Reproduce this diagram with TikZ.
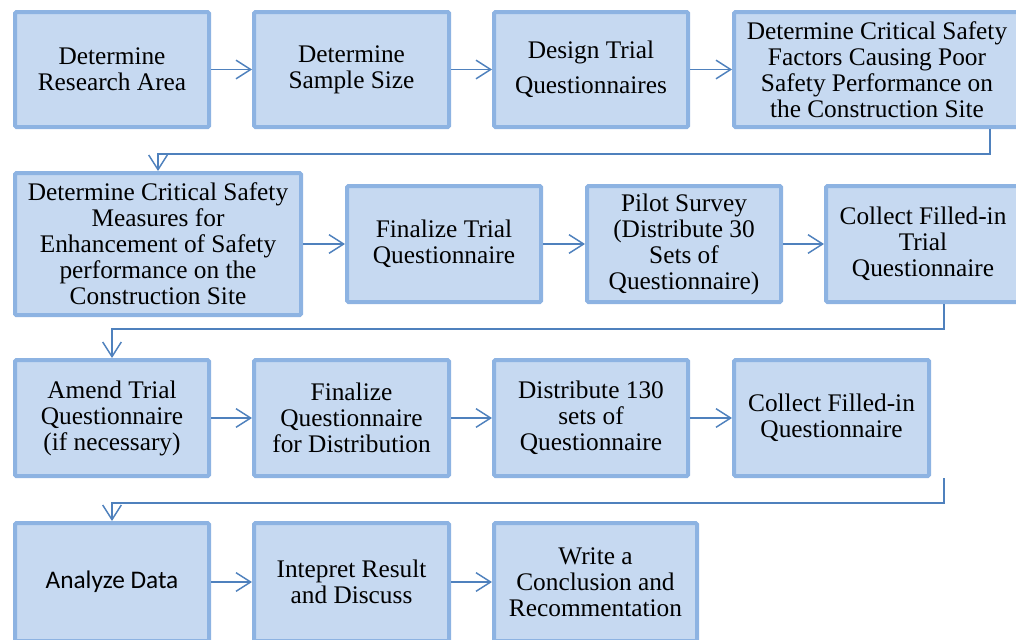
\documentclass[tikz,border=0pt]{standalone}
\usepackage{fontspec}
\setmainfont{Liberation Serif}
\newfontfamily\calfont{Carlito}
\usetikzlibrary{arrows.meta}
\definecolor{boxfill}{HTML}{C6D9F1}
\definecolor{boxborder}{HTML}{8DB3E2}
\definecolor{arrcol}{HTML}{4F81BD}
\tikzset{
  box/.style={draw=boxborder, fill=boxfill, line width=3pt, rounded corners=1pt,
    align=center, inner sep=0pt, font=\fontsize{19}{19.5}\selectfont, text=black},
  arr/.style={draw=arrcol, line width=1.1pt,
    -{Straight Barb[length=11pt,width=14pt,line width=1.1pt]}},
}
\newcommand{\bx}[6]{%
  \node[box, minimum width={(#4-#2)*0.75pt-3pt}, minimum height={(#5-#3)*0.75pt-3pt}]
    (#1) at ({(#2+#4)/2},{(#3+#5)/2}) {#6};}
\begin{document}
\begin{tikzpicture}[x=0.75pt,y=-0.75pt]
\useasboundingbox (0,0) rectangle (1016,639);
% row 1
\bx{b1}{13}{10}{211}{129}{Determine\\Research Area}
\bx{b2}{252}{10}{451}{129}{Determine\\Sample Size}
\bx{b3}{492}{10}{690}{129}{Design Trial\\[6.75pt]Questionnaires}
\bx{b4}{732}{10}{1022}{129}{Determine Critical Safety\\Factors Causing Poor\\Safety Performance on\\the Construction Site}
% row 2
\bx{b5}{13}{171}{303}{317}{Determine Critical Safety\\Measures for\\Enhancement of Safety\\performance on the\\Construction Site}
\bx{b6}{345}{184}{543}{304}{Finalize Trial\\Questionnaire}
\bx{b7}{585}{184}{783}{304}{Pilot Survey\\(Distribute 30\\Sets of\\Questionnaire)}
\bx{b8}{824}{184}{1022}{304}{Collect Filled-in\\Trial\\Questionnaire}
% row 3
\bx{b9}{13}{358}{211}{478}{Amend Trial\\Questionnaire\\(if necessary)}
\bx{b10}{252}{358}{451}{478}{Finalize\\Questionnaire\\for Distribution}
\bx{b11}{492}{358}{690}{478}{Distribute 130\\sets of\\Questionnaire}
\bx{b12}{732}{358}{931}{478}{Collect Filled-in\\Questionnaire}
% row 4
\bx{b13}{13}{521}{211}{643}{{\calfont Analyze Data}}
\bx{b14}{252}{521}{451}{643}{Intepret Result\\and Discuss}
\bx{b15}{492}{521}{699}{643}{Write a\\Conclusion and\\Recommentation}
% horizontal connectors
\draw[arr] (b1.east) -- (b2.west);
\draw[arr] (b2.east) -- (b3.west);
\draw[arr] (b3.east) -- (b4.west);
\draw[arr] (b5.east) -- (b6.west);
\draw[arr] (b6.east) -- (b7.west);
\draw[arr] (b7.east) -- (b8.west);
\draw[arr] (b9.east) -- (b10.west);
\draw[arr] (b10.east) -- (b11.west);
\draw[arr] (b11.east) -- (b12.west);
\draw[arr] (b13.east) -- (b14.west);
\draw[arr] (b14.east) -- (b15.west);
% row-change connectors
\coordinate (t1) at (990,154);
\coordinate (t2) at (944,329);
\coordinate (t3) at (944,503);
\draw[arr] (b4.south -| t1) -- (t1) -- (t1 -| b5.north) -- (b5.north);
\draw[arr] (b8.south -| t2) -- (t2) -- (t2 -| b9.north) -- (b9.north);
\draw[arr] (b12.south -| t3) -- (t3) -- (t3 -| b13.north) -- (b13.north);
\end{tikzpicture}
\end{document}
